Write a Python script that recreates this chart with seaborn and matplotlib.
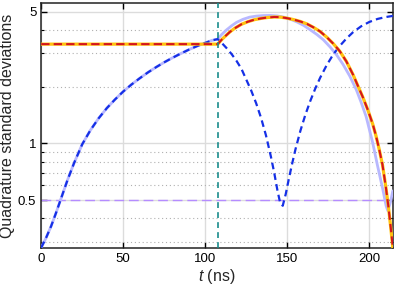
import matplotlib
matplotlib.use("Agg")
import matplotlib.pyplot as plt
import matplotlib.ticker as mticker
import seaborn as sns

# values
t_switch = 107.6
sd_ref = 0.5

blue_t = [0, 3, 6, 9, 12, 16, 20, 25, 30, 35, 40, 45, 50, 55, 60, 65, 70, 75, 80, 85, 90, 95, 100, 104,
          107.6, 110, 113, 116, 119, 122, 125, 128, 131, 134, 137, 140, 142, 144, 145.5, 147.2,
          149, 151, 153, 155, 158, 161, 164, 167, 170, 174, 178, 182, 186, 190, 195, 200, 205, 210, 214.3]
blue_sd = [0.280, 0.316, 0.363, 0.427, 0.507, 0.638, 0.785, 0.989, 1.175, 1.358, 1.538, 1.710, 1.884,
           2.051, 2.213, 2.377, 2.535, 2.692, 2.844, 2.992, 3.141, 3.281, 3.412, 3.516,
           3.573, 3.412, 3.199, 2.979, 2.742, 2.489, 2.178, 1.905, 1.633, 1.365, 1.102, 0.851, 0.700,
           0.562, 0.490, 0.467,
           0.537, 0.653, 0.785, 0.933, 1.169, 1.419, 1.679, 1.950, 2.228, 2.600, 2.965, 3.289, 3.597,
           3.882, 4.178, 4.406, 4.571, 4.677, 4.742]

# light blue envelope, after the switch (before it follows the blue curve)
env_t = [110, 113, 116, 119, 123, 127, 131, 135, 139.5, 144, 148, 152, 156, 160, 164, 168, 172,
         176, 180, 184, 188, 192, 195, 198, 202, 205, 208.2, 210.2, 211.2, 212.8, 214.3]
env_sd = [3.78, 4.0, 4.2, 4.38, 4.55, 4.67, 4.73, 4.76, 4.77, 4.74, 4.67, 4.55, 4.40, 4.22, 4.00, 3.78, 3.54,
          3.25, 2.95, 2.62, 2.28, 1.93, 1.65, 1.39, 1.01, 0.76, 0.57, 0.467, 0.44, 0.486, 0.56]

red_t = [0, 107.6, 110, 112, 115, 118, 122, 126, 130, 134, 138, 142, 146, 150, 154, 158, 162, 166,
         170, 174, 178, 182, 186, 190, 193, 196, 199, 202, 204, 206, 208, 210, 211.5, 213, 214.3]
red_sd = [3.36, 3.36, 3.55, 3.69, 3.90, 4.08, 4.28, 4.42, 4.53, 4.60, 4.65, 4.68, 4.67, 4.61, 4.53, 4.43,
          4.30, 4.12, 3.92, 3.66, 3.38, 3.08, 2.72, 2.32, 2.02, 1.76, 1.51, 1.27, 1.10, 0.93, 0.77, 0.59,
          0.47, 0.36, 0.28]

k = blue_t.index(t_switch) + 1
lb_t = blue_t[:k] + env_t
lb_sd = blue_sd[:k] + env_sd

sns.set_style("ticks")
plt.rcParams["font.family"] = ["Liberation Sans", "DejaVu Sans"]
plt.rcParams["mathtext.fontset"] = "custom"
plt.rcParams["mathtext.it"] = "Liberation Sans:italic"

fig, ax = plt.subplots(figsize=(3.96, 2.87), dpi=100)
fig.subplots_adjust(left=0.104, right=0.992, top=0.991, bottom=0.135)

ax.axhline(sd_ref, color="#b58cff", lw=1.0, linestyle=(0, (7, 3.5)), zorder=2)

sns.lineplot(x=lb_t, y=lb_sd, ax=ax, color="#b8b8ff", lw=2.0, sort=False, zorder=3)
sns.lineplot(x=blue_t, y=blue_sd, ax=ax, color="#1530e6", lw=1.6, sort=False,
             linestyle=(0, (3, 1.9)), zorder=4)
sns.lineplot(x=red_t, y=red_sd, ax=ax, color="#ffc20e", lw=2.3, sort=False, zorder=5)
sns.lineplot(x=red_t, y=red_sd, ax=ax, color="#d4141e", lw=1.5, sort=False,
             linestyle=(0, (4, 2)), zorder=6)

ax.axvline(t_switch, color="#198c8c", lw=1.2, linestyle=(0, (3.5, 2.5)), zorder=7)

ax.set_yscale("log")
ax.set_xlim(0, 214.3)
ax.set_ylim(0.278, 5.58)

ax.xaxis.set_major_locator(mticker.FixedLocator([0, 50, 100, 150, 200]))
ax.yaxis.set_major_locator(mticker.FixedLocator([0.5, 1, 5]))
ax.yaxis.set_major_formatter(mticker.FixedFormatter(["0.5", "1", "5"]))
ax.yaxis.set_minor_locator(mticker.FixedLocator([0.3, 0.4, 0.6, 0.7, 0.8, 0.9, 2, 3, 4]))
ax.yaxis.set_minor_formatter(mticker.NullFormatter())

ax.grid(True, which="major", axis="x", color="#dcdcdc", lw=1.0)
ax.grid(True, which="major", axis="y", color="#dcdcdc", lw=1.0)
ax.grid(True, which="minor", axis="y", color="#b0b0b0", lw=0.8, linestyle=(0, (1, 2.5)))

ax.tick_params(which="both", direction="in", top=True, right=True, labelsize=9.5, colors="black")
ax.tick_params(which="major", length=4, width=1.0)
ax.tick_params(which="minor", length=2.5, width=0.8)
for s in ax.spines.values():
    s.set_linewidth(1.1)
    s.set_color("#222222")

ax.set_xlabel("$t$ (ns)", fontsize=11.5, labelpad=1)
ax.set_ylabel("Quadrature standard deviations", fontsize=11.5, labelpad=2)

fig.savefig("out.png", dpi=100)
